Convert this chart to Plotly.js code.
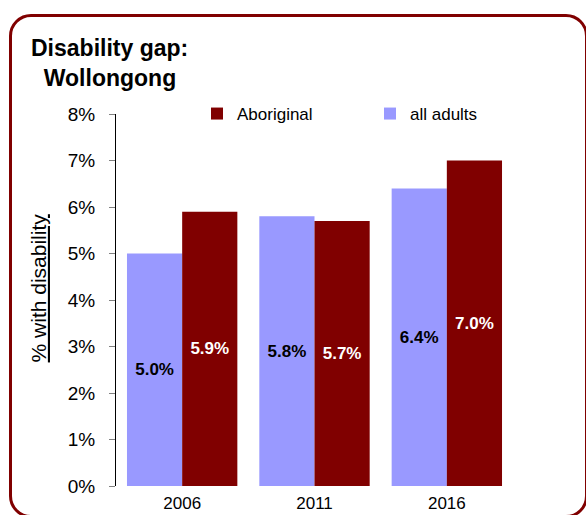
<!DOCTYPE html>
<html>
<head>
<meta charset="utf-8">
<script src="https://cdn.plot.ly/plotly-3.0.1.min.js"></script>
<style>
  html, body { margin: 0; padding: 0; background: #ffffff; overflow: hidden; }
  #wrap { position: relative; width: 586px; height: 515px; overflow: hidden; }
  #frame { position: absolute; left: 9px; top: 14px; width: 579px; height: 504px;
           box-sizing: border-box; border: 3px solid #800000; border-radius: 22px; }
  #chart { position: absolute; left: 0; top: 0; width: 586px; height: 515px; }
</style>
</head>
<body>
<div id="wrap">
  <div id="frame"></div>
  <div id="chart"></div>
</div>
<script>
const years = ['2006', '2011', '2016'];
const allAdults = [5.0, 5.8, 6.4];
const aboriginal = [5.9, 5.7, 7.0];
const seriesNames = ['all adults', 'Aboriginal'];
const yTicks = [0, 1, 2, 3, 4, 5, 6, 7, 8];
const yTickLabels = ['0%', '1%', '2%', '3%', '4%', '5%', '6%', '7%', '8%'];

const FONT = 'Liberation Sans, Arial, sans-serif';

const traces = [
  {
    type: 'bar', name: seriesNames[0], x: years, y: allAdults,
    marker: { color: '#9999FF' },
    texttemplate: '%{y:.1f}%', textposition: 'inside', insidetextanchor: 'middle',
    textangle: 0,
    textfont: { family: FONT, size: 17, color: '#000000', weight: 'bold' },
    hoverinfo: 'skip'
  },
  {
    type: 'bar', name: seriesNames[1], x: years, y: aboriginal,
    marker: { color: '#800000' },
    texttemplate: '%{y:.1f}%', textposition: 'inside', insidetextanchor: 'middle',
    textangle: 0,
    textfont: { family: FONT, size: 17, color: '#ffffff', weight: 'bold' },
    hoverinfo: 'skip'
  }
];

const layout = {
  width: 586, height: 515,
  paper_bgcolor: 'rgba(0,0,0,0)', plot_bgcolor: 'rgba(0,0,0,0)',
  margin: { l: 116, r: 73, t: 114, b: 29, pad: 0 },
  font: { family: FONT, size: 17, color: '#000000' },
  barmode: 'group', bargap: 0.166, bargroupgap: 0,
  showlegend: true,
  title: {
    text: 'Disability gap:<br>&nbsp;&nbsp;Wollongong',
    xref: 'container', yref: 'container', x: 31 / 586, xanchor: 'left',
    y: 1 - 56 / 515, yanchor: 'top',
    font: { family: FONT, size: 23, color: '#000000', weight: 'bold' }
  },
  legend: {
    orientation: 'h', traceorder: 'reversed',
    x: 0.204, xanchor: 'left', y: 1.0, yanchor: 'middle',
    font: { family: FONT, size: 17, color: '#000000' },
    bgcolor: 'rgba(0,0,0,0)', borderwidth: 0,
    entrywidth: 128, entrywidthmode: 'pixels', itemwidth: 30
  },
  xaxis: {
    type: 'category', showline: false, ticks: '', showgrid: false, zeroline: false,
    ticklabelstandoff: 5,
    tickfont: { family: FONT, size: 17, color: '#000000' }
  },
  yaxis: {
    range: [0, 8], tickmode: 'array', tickvals: yTicks, ticktext: yTickLabels,
    showline: true, linecolor: '#000000', linewidth: 1,
    ticks: 'outside', ticklen: 6, tickcolor: '#808080', tickwidth: 1,
    showgrid: false, zeroline: false, ticklabelstandoff: 10,
    tickfont: { family: FONT, size: 19, color: '#000000' },
    title: { text: '&nbsp;&nbsp;&nbsp;&nbsp;<u>% with disability</u>', standoff: 15,
             font: { family: FONT, size: 21, color: '#000000' } }
  }
};

Plotly.newPlot('chart', traces, layout, { displayModeBar: false, staticPlot: true });
</script>
</body>
</html>
